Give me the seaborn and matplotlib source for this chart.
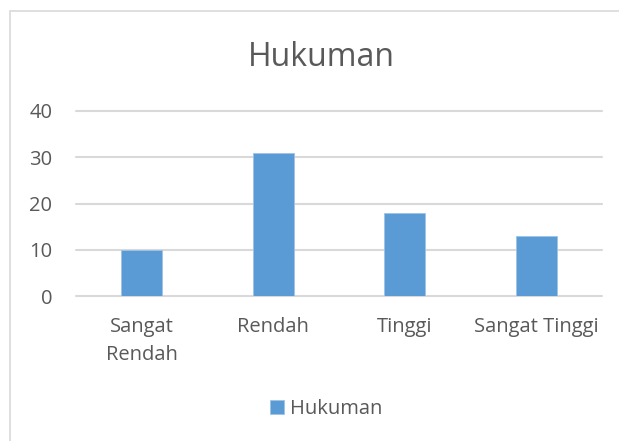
import matplotlib
matplotlib.use("Agg")
import matplotlib.pyplot as plt
import matplotlib.patches as mpatches
import pandas as pd
import seaborn as sns

'''DATA'''
categories = ["Sangat\nRendah", "Rendah", "Tinggi", "Sangat Tinggi"]
values = [10, 31, 18, 13]
series_name = "Hukuman"
yticks = [0, 10, 20, 30, 40]

'''STYLE'''
bar_color = "#5B9BD5"
grid_color = "#D9D9D9"
text_color = "#595959"

sns.set_style("white")
plt.rcParams['font.family'] = ['Open Sans', 'DejaVu Sans']


def main():
    df = pd.DataFrame({"kategori": categories, "nilai": values})

    fig = plt.figure(figsize=(6.19, 4.41), dpi=100)
    ax = fig.add_axes([76 / 619, 145 / 441, 526 / 619, 185 / 441])

    sns.barplot(data=df, x="kategori", y="nilai", color=bar_color, width=0.31,
                edgecolor="#9DC3E6", linewidth=0.6, label=series_name, ax=ax,
                saturation=1)
    handles, labels = ax.get_legend_handles_labels()
    if ax.get_legend() is not None:
        ax.get_legend().remove()

    ax.set_ylim(0, 40)
    ax.set_xlim(-0.5, len(categories) - 0.5)
    ax.set_yticks(yticks)
    ax.set_xlabel("")
    ax.set_ylabel("")
    for s in ax.spines.values():
        s.set_visible(False)
    ax.yaxis.grid(True, color=grid_color, linewidth=1.5)
    ax.set_axisbelow(True)
    for line in ax.get_ygridlines():
        line.set_clip_on(False)
    ax.tick_params(axis="both", length=0, labelsize=14.5, colors=text_color)
    ax.tick_params(axis="y", pad=17)
    ax.tick_params(axis="x", pad=15)
    for lbl in ax.get_xticklabels():
        lbl.set_horizontalalignment("center")
        lbl.set_linespacing(1.55)

    fig.text(321 / 619, (441 - 57) / 441, "Hukuman", ha="center", va="center",
             fontsize=23, color=text_color)

    leg = fig.legend(handles[:1], labels[:1], loc="center",
                     bbox_to_anchor=(326 / 619, (441 - 409) / 441),
                     frameon=False, fontsize=14.5, handlelength=0.7,
                     handleheight=0.7, handletextpad=0.3)
    for t in leg.get_texts():
        t.set_color(text_color)

    # chart area border
    fig.patches.append(mpatches.Rectangle((10 / 619, -0.1), 1.2, (441 - 11) / 441 + 0.1,
                                          transform=fig.transFigure, fill=False,
                                          edgecolor=grid_color, linewidth=1.2,
                                          clip_on=False))

    fig.savefig("out.png", dpi=100)


if __name__ == "__main__":
    main()
